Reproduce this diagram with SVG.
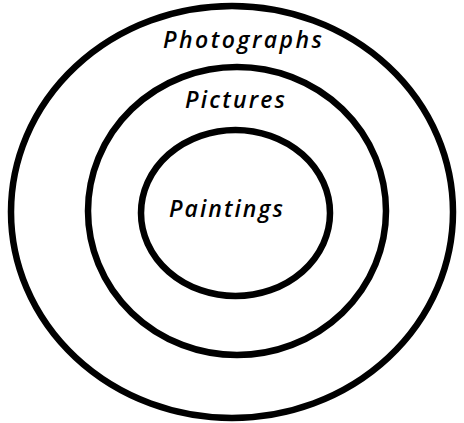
<svg xmlns="http://www.w3.org/2000/svg" width="464" height="423" viewBox="0 0 464 423">
<style>
.ring{fill:none;stroke:#000;stroke-width:6.5}
.lbl{font-family:"Open Sans","Liberation Sans",sans-serif;font-style:italic;font-weight:600;font-size:23px;fill:#000}
</style>
<rect width="464" height="423" fill="#fff"/>
<g id="photographs">
<ellipse class="ring" cx="232" cy="212" rx="221" ry="206"/>
<text class="lbl" x="163" y="48" textLength="159" lengthAdjust="spacing">Photographs</text>
</g>
<g id="pictures">
<ellipse class="ring" cx="237" cy="211" rx="149" ry="144"/>
<text class="lbl" x="185" y="108" textLength="100" lengthAdjust="spacing">Pictures</text>
</g>
<g id="paintings">
<ellipse class="ring" cx="235.5" cy="213" rx="94.5" ry="83"/>
<text class="lbl" x="169" y="217" textLength="114" lengthAdjust="spacing">Paintings</text>
</g>
<g id="connectors"/>
</svg>
